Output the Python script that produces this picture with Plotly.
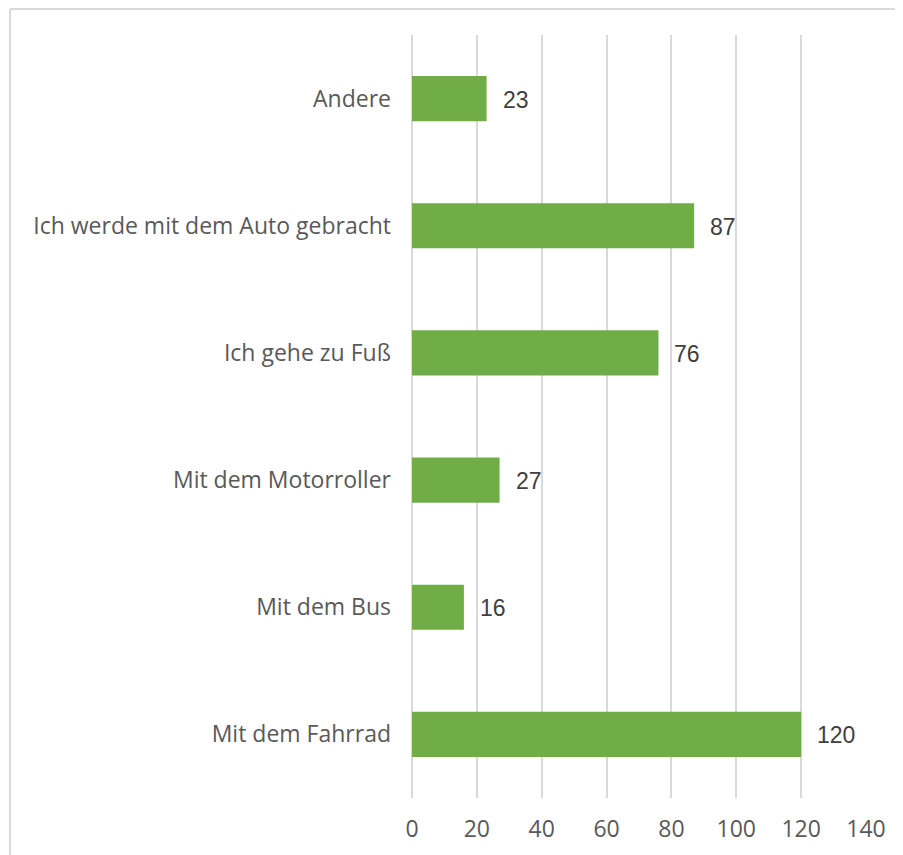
import plotly.graph_objects as go

# categories bottom -> top, as they appear on the y axis
categories = [
    "Mit dem Fahrrad",
    "Mit dem Bus",
    "Mit dem Motorroller",
    "Ich gehe zu Fuß",
    "Ich werde mit dem Auto gebracht",
    "Andere",
]
counts = [120, 16, 27, 76, 87, 23]
x_ticks = [0, 20, 40, 60, 80, 100, 120, 140]

BAR_GREEN = "#70AD47"
GRID = "#D9D9D9"
AXIS_TEXT = "#595959"
LABEL_TEXT = "#404040"

fig = go.Figure()
fig.add_trace(
    go.Bar(
        x=counts,
        y=categories,
        orientation="h",
        width=0.355,
        marker=dict(color=BAR_GREEN, line=dict(width=0)),
        hoverinfo="x+y",
    )
)

# value labels sit a bit right of the bar end
for cat, val in zip(categories, counts):
    fig.add_annotation(
        x=val,
        y=cat,
        text=str(val),
        showarrow=False,
        xanchor="left",
        xshift=14,
        yshift=-1,
        font=dict(family="Liberation Sans, Arial", size=23, color=LABEL_TEXT),
    )

# light frame around the chart area (top and left edges visible)
fig.add_shape(type="line", xref="paper", yref="paper", x0=-0.8855, x1=1.2,
              y0=1.0341, y1=1.0341, line=dict(color=GRID, width=2))
fig.add_shape(type="line", xref="paper", yref="paper", x0=-0.8855, x1=-0.8855,
              y0=1.0341, y1=-0.2, line=dict(color=GRID, width=2))

# page body adds an 8px offset, so the figure is sized to fit the window
fig.update_layout(
    width=895,
    height=847,
    plot_bgcolor="white",
    paper_bgcolor="white",
    showlegend=False,
    margin=dict(l=404, r=37, t=27, b=57),
    font=dict(family="Open Sans", size=23, color=AXIS_TEXT),
)
fig.update_xaxes(
    range=[0, 140],
    tickvals=x_ticks,
    showgrid=True,
    gridcolor=GRID,
    gridwidth=2,
    zeroline=True,
    zerolinecolor=GRID,
    zerolinewidth=2,
    showline=False,
    ticks="",
    ticklabelstandoff=15,
    tickfont=dict(family="Open Sans", size=23, color=AXIS_TEXT),
)
fig.update_yaxes(
    categoryorder="array",
    categoryarray=categories,
    range=[-0.5, 5.5],
    showgrid=False,
    showline=False,
    ticks="",
    ticklabelstandoff=20,
    tickfont=dict(family="Open Sans", size=23, color=AXIS_TEXT),
)

fig.write_html("out.html")
